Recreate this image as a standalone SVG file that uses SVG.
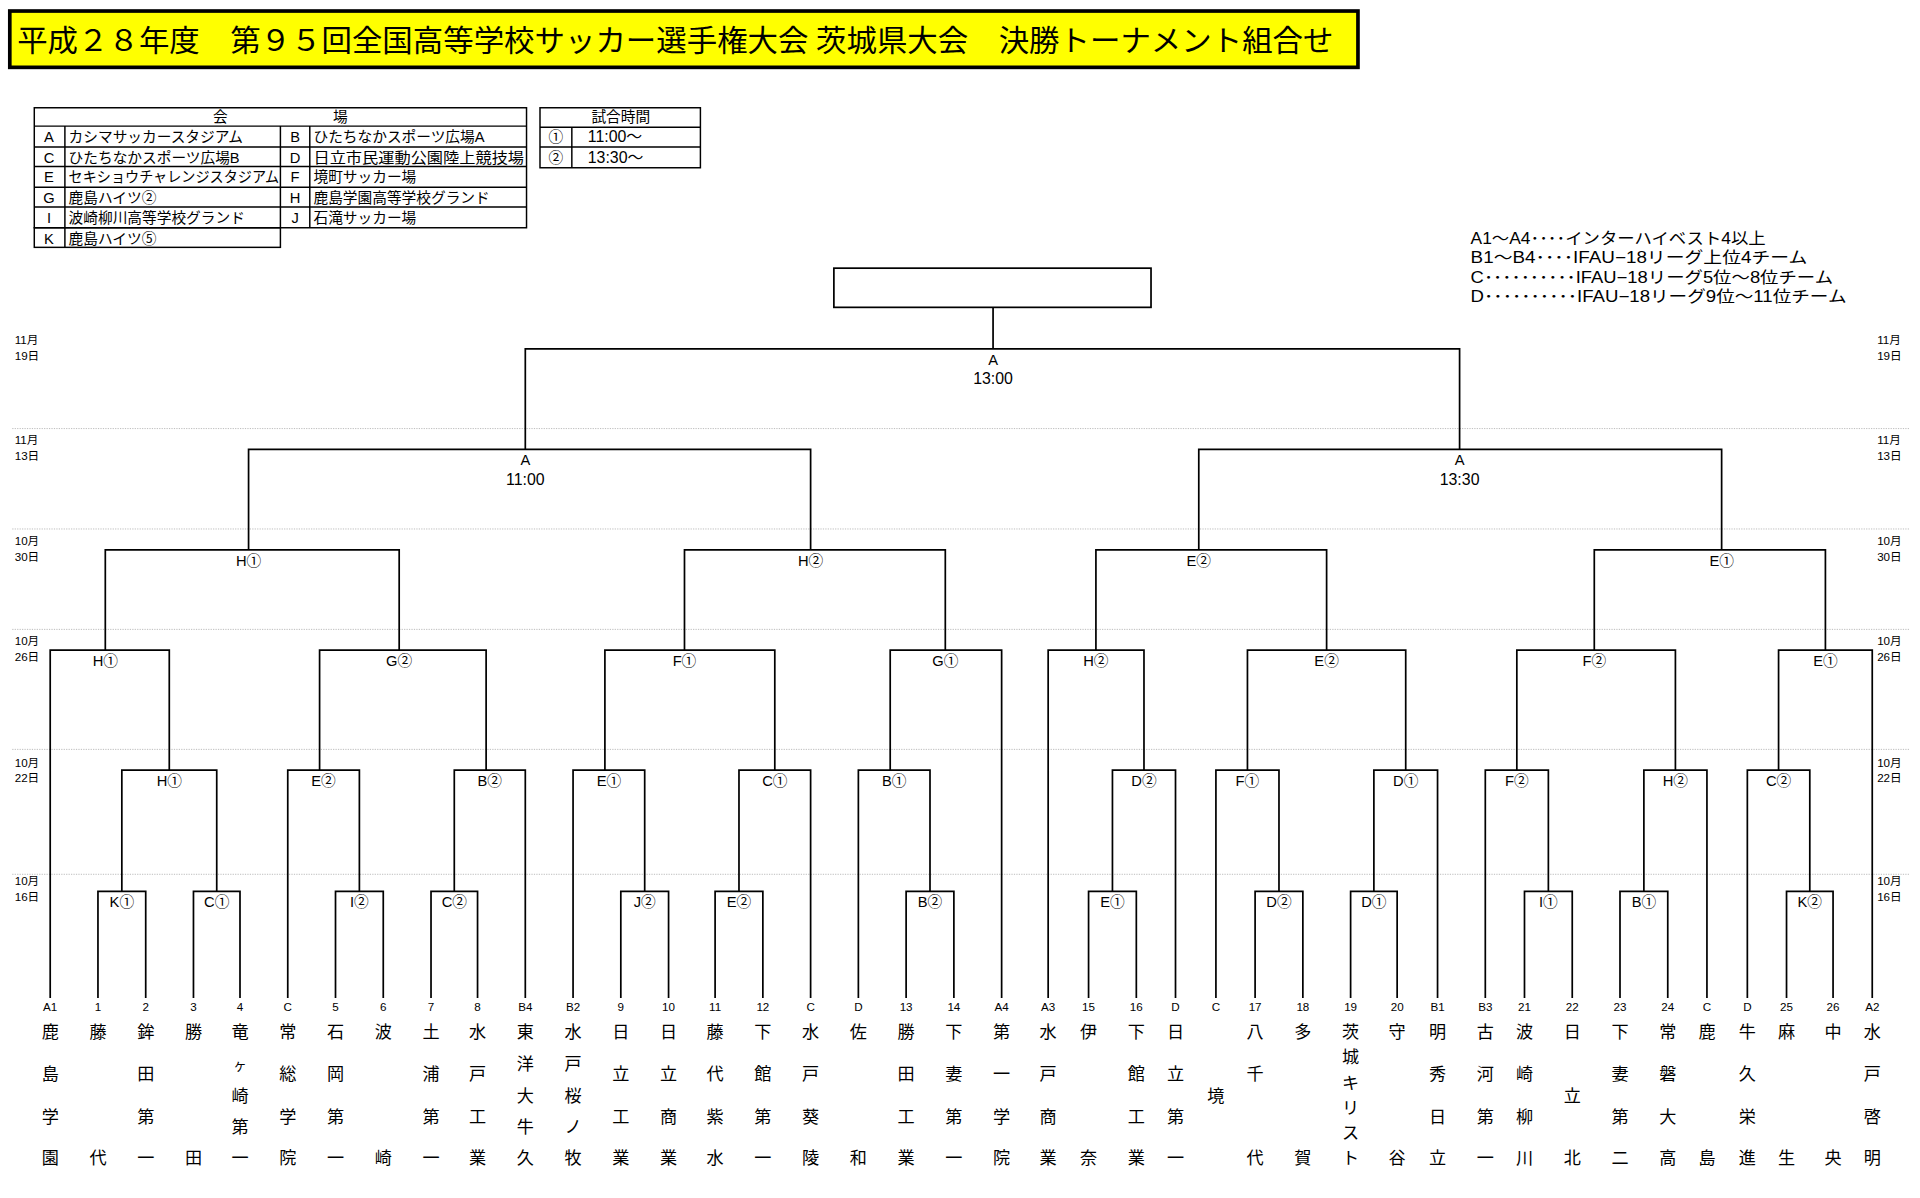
<svg xmlns="http://www.w3.org/2000/svg" width="1920" height="1198" viewBox="0 0 1920 1198">
<style>
.ln{fill:none;stroke:#000;stroke-width:1.4}
.dot{stroke:#bbb;stroke-width:0.8;stroke-dasharray:1 1}
.s{font-family:"Liberation Sans","Noto Sans CJK JP",sans-serif;fill:#000}
.lb{font-size:12px;text-anchor:middle}
.dt{font-size:9.5px}
.cd{font-size:9.5px;text-anchor:middle}
.tm{font-family:"Noto Sans CJK JP",sans-serif;font-size:14px;text-anchor:middle;fill:#000}
.tb{font-size:12px}
.cell{fill:none;stroke:#000;stroke-width:1.2}
</style>
<rect width="1920" height="1198" fill="#fff"/>
<g transform="scale(1.22449)">
<g id="title">
<rect x="8" y="9" width="1101" height="46" fill="#ffff00" stroke="#000" stroke-width="3"/>
<text x="14" y="42" font-family="'Liberation Serif','Noto Sans CJK JP',serif" font-size="24" textLength="1075" lengthAdjust="spacingAndGlyphs">平成２８年度　第９５回全国高等学校サッカー選手権大会 茨城県大会　決勝トーナメント組合せ</text>
</g>
<g id="venues" class="s tb">
<rect class="cell" x="28" y="88" width="402" height="98"/>
<rect class="cell" x="28" y="186" width="201" height="16"/>
<path class="cell" d="M28 103H430M28 120H430M28 136H430M28 153H430M28 169H430M53 103V202M229 103V186M253 103V186"/>
<text x="180" y="100" text-anchor="middle">会</text><text x="278" y="100" text-anchor="middle">場</text>
<g text-anchor="middle"><text x="40" y="116">A</text><text x="40" y="133">C</text><text x="40" y="149">E</text><text x="40" y="166">G</text><text x="40" y="182">I</text><text x="40" y="199">K</text>
<text x="241" y="116">B</text><text x="241" y="133">D</text><text x="241" y="149">F</text><text x="241" y="166">H</text><text x="241" y="182">J</text></g>
<text x="56" y="116">カシマサッカースタジアム</text><text x="56" y="133">ひたちなかスポーツ広場B</text><text x="56" y="149" textLength="172" lengthAdjust="spacingAndGlyphs">セキショウチャレンジスタジアム</text><text x="56" y="166">鹿島ハイツ②</text><text x="56" y="182">波崎柳川高等学校グランド</text><text x="56" y="199">鹿島ハイツ⑤</text>
<text x="256" y="116">ひたちなかスポーツ広場A</text><text x="256" y="133" textLength="172" lengthAdjust="spacingAndGlyphs">日立市民運動公園陸上競技場</text><text x="256" y="149">境町サッカー場</text><text x="256" y="166">鹿島学園高等学校グランド</text><text x="256" y="182">石滝サッカー場</text>
</g>
<g id="times" class="s tb">
<rect class="cell" x="441" y="88" width="131" height="49"/>
<path class="cell" d="M441 104H572M441 120H572M467 104V137"/>
<text x="507" y="100" text-anchor="middle">試合時間</text>
<text x="454" y="116" text-anchor="middle">①</text><text x="454" y="133" text-anchor="middle">②</text>
<text x="480" y="116" font-size="13">11:00～</text><text x="480" y="133" font-size="13">13:30～</text>
</g>
<g id="legend" class="s" font-size="13">
<text x="1201" y="199" textLength="241" lengthAdjust="spacingAndGlyphs">A1～A4････インターハイベスト4以上</text>
<text x="1201" y="215" textLength="275" lengthAdjust="spacingAndGlyphs">B1～B4････IFAU−18リーグ上位4チーム</text>
<text x="1201" y="231" textLength="296" lengthAdjust="spacingAndGlyphs">C･･････････IFAU−18リーグ5位～8位チーム</text>
<text x="1201" y="247" textLength="307" lengthAdjust="spacingAndGlyphs">D･･････････IFAU−18リーグ9位～11位チーム</text>
</g>
<g id="grid">
<path class="dot" d="M10 350H1560M10 432H1560M10 514H1560M10 612H1560M10 714H1560"/>
</g>
<g id="dates" class="s dt">
<text x="12" y="281">11月</text><text x="12" y="294">19日</text><text x="1533" y="281">11月</text><text x="1533" y="294">19日</text>
<text x="12" y="363">11月</text><text x="12" y="376">13日</text><text x="1533" y="363">11月</text><text x="1533" y="376">13日</text>
<text x="12" y="445">10月</text><text x="12" y="458">30日</text><text x="1533" y="445">10月</text><text x="1533" y="458">30日</text>
<text x="12" y="527">10月</text><text x="12" y="540">26日</text><text x="1533" y="527">10月</text><text x="1533" y="540">26日</text>
<text x="12" y="626">10月</text><text x="12" y="639">22日</text><text x="1533" y="626">10月</text><text x="1533" y="639">22日</text>
<text x="12" y="723">10月</text><text x="12" y="736">16日</text><text x="1533" y="723">10月</text><text x="1533" y="736">16日</text>
</g>
<g id="champion"><rect x="681" y="219" width="259" height="32" fill="#fff" stroke="#000" stroke-width="1.4"/></g>
<g id="connectors" class="ln">
<path d="M80 815V728H119V815M158 815V728H196V815M274 815V728H313V815M352 815V728H390V815M507 815V728H546V815M584 815V728H623V815M740 815V728H779V815M889 815V728H928V815M1025 815V728H1064V815M1103 815V728H1141V815M1245 815V728H1284V815M1323 815V728H1362V815M1459 815V728H1497V815"/>
<path d="M99.5 728V629H177V728M235 815V629H293.5V728M371 728V629H429V815M468 815V629H526.5V728M603.5 728V629H662V815M701 815V629H759.5V728M908.5 728V629H960V815M993 815V629H1044.5V728M1122 728V629H1174V815M1213 815V629H1264.5V728M1342.5 728V629H1394V815M1427 815V629H1478V728"/>
<path d="M41 815V531H138.25V629M261 629V531H397V629M494 629V531H632.75V629M727 629V531H818V815M856 815V531H934.25V629M1018.75 629V531H1148V629M1238.75 629V531H1368.25V629M1452.5 629V531H1529V815"/>
<path d="M86 531V449H326V531M559 531V449H772V531M895 531V449H1083.4V531M1302 531V449H1490.75V531"/>
<path d="M203 449V367H662V449M979 449V367H1406V449"/>
<path d="M429 367V285H1192V367M811 285V251"/>
</g>
<g id="match-labels" class="s lb">
<text x="99.5" y="741">K①</text><text x="177" y="741">C①</text><text x="293.5" y="741">I②</text><text x="371" y="741">C②</text><text x="526.5" y="741">J②</text><text x="603.5" y="741">E②</text><text x="759.5" y="741">B②</text><text x="908.5" y="741">E①</text><text x="1044.5" y="741">D②</text><text x="1122" y="741">D①</text><text x="1264.5" y="741">I①</text><text x="1342.5" y="741">B①</text><text x="1478" y="741">K②</text>
<text x="138.25" y="642">H①</text><text x="264.25" y="642">E②</text><text x="400" y="642">B②</text><text x="497.25" y="642">E①</text><text x="632.75" y="642">C①</text><text x="730.25" y="642">B①</text><text x="934.25" y="642">D②</text><text x="1018.75" y="642">F①</text><text x="1148" y="642">D①</text><text x="1238.75" y="642">F②</text><text x="1368.25" y="642">H②</text><text x="1452.5" y="642">C②</text>
<text x="86" y="544">H①</text><text x="326" y="544">G②</text><text x="559" y="544">F①</text><text x="772" y="544">G①</text><text x="895" y="544">H②</text><text x="1083.4" y="544">E②</text><text x="1302" y="544">F②</text><text x="1490.75" y="544">E①</text>
<text x="203" y="462">H①</text><text x="662" y="462">H②</text><text x="979" y="462">E②</text><text x="1406" y="462">E①</text>
<text x="429" y="380">A</text><text x="429" y="396" font-size="13">11:00</text><text x="1192" y="380">A</text><text x="1192" y="396" font-size="13">13:30</text>
<text x="811" y="298">A</text><text x="811" y="314" font-size="13">13:00</text>
</g>
<g id="codes" class="s cd">
<text x="41" y="826">A1</text><text x="80" y="826">1</text><text x="119" y="826">2</text><text x="158" y="826">3</text><text x="196" y="826">4</text><text x="235" y="826">C</text><text x="274" y="826">5</text><text x="313" y="826">6</text><text x="352" y="826">7</text><text x="390" y="826">8</text><text x="429" y="826">B4</text><text x="468" y="826">B2</text><text x="507" y="826">9</text><text x="546" y="826">10</text><text x="584" y="826">11</text><text x="623" y="826">12</text><text x="662" y="826">C</text><text x="701" y="826">D</text><text x="740" y="826">13</text><text x="779" y="826">14</text><text x="818" y="826">A4</text>
<text x="856" y="826">A3</text><text x="889" y="826">15</text><text x="928" y="826">16</text><text x="960" y="826">D</text><text x="993" y="826">C</text><text x="1025" y="826">17</text><text x="1064" y="826">18</text><text x="1103" y="826">19</text><text x="1141" y="826">20</text><text x="1174" y="826">B1</text><text x="1213" y="826">B3</text><text x="1245" y="826">21</text><text x="1284" y="826">22</text><text x="1323" y="826">23</text><text x="1362" y="826">24</text><text x="1394" y="826">C</text><text x="1427" y="826">D</text><text x="1459" y="826">25</text><text x="1497" y="826">26</text><text x="1529" y="826">A2</text>
</g>
<g id="teams" class="tm">
<text x="41"><tspan x="41" y="848">鹿</tspan><tspan x="41" y="882">島</tspan><tspan x="41" y="917">学</tspan><tspan x="41" y="951">園</tspan></text>
<text x="80"><tspan x="80" y="848">藤</tspan><tspan x="80" y="951">代</tspan></text>
<text x="119"><tspan x="119" y="848">鉾</tspan><tspan x="119" y="882">田</tspan><tspan x="119" y="917">第</tspan><tspan x="119" y="951">一</tspan></text>
<text x="158"><tspan x="158" y="848">勝</tspan><tspan x="158" y="951">田</tspan></text>
<text x="196"><tspan x="196" y="848">竜</tspan><tspan x="196" y="874" font-size="11">ヶ</tspan><tspan x="196" y="900">崎</tspan><tspan x="196" y="925">第</tspan><tspan x="196" y="951">一</tspan></text>
<text x="235"><tspan x="235" y="848">常</tspan><tspan x="235" y="882">総</tspan><tspan x="235" y="917">学</tspan><tspan x="235" y="951">院</tspan></text>
<text x="274"><tspan x="274" y="848">石</tspan><tspan x="274" y="882">岡</tspan><tspan x="274" y="917">第</tspan><tspan x="274" y="951">一</tspan></text>
<text x="313"><tspan x="313" y="848">波</tspan><tspan x="313" y="951">崎</tspan></text>
<text x="352"><tspan x="352" y="848">土</tspan><tspan x="352" y="882">浦</tspan><tspan x="352" y="917">第</tspan><tspan x="352" y="951">一</tspan></text>
<text x="390"><tspan x="390" y="848">水</tspan><tspan x="390" y="882">戸</tspan><tspan x="390" y="917">工</tspan><tspan x="390" y="951">業</tspan></text>
<text x="429"><tspan x="429" y="848">東</tspan><tspan x="429" y="874">洋</tspan><tspan x="429" y="900">大</tspan><tspan x="429" y="925">牛</tspan><tspan x="429" y="951">久</tspan></text>
<text x="468"><tspan x="468" y="848">水</tspan><tspan x="468" y="874">戸</tspan><tspan x="468" y="900">桜</tspan><tspan x="468" y="925">ノ</tspan><tspan x="468" y="951">牧</tspan></text>
<text x="507"><tspan x="507" y="848">日</tspan><tspan x="507" y="882">立</tspan><tspan x="507" y="917">工</tspan><tspan x="507" y="951">業</tspan></text>
<text x="546"><tspan x="546" y="848">日</tspan><tspan x="546" y="882">立</tspan><tspan x="546" y="917">商</tspan><tspan x="546" y="951">業</tspan></text>
<text x="584"><tspan x="584" y="848">藤</tspan><tspan x="584" y="882">代</tspan><tspan x="584" y="917">紫</tspan><tspan x="584" y="951">水</tspan></text>
<text x="623"><tspan x="623" y="848">下</tspan><tspan x="623" y="882">館</tspan><tspan x="623" y="917">第</tspan><tspan x="623" y="951">一</tspan></text>
<text x="662"><tspan x="662" y="848">水</tspan><tspan x="662" y="882">戸</tspan><tspan x="662" y="917">葵</tspan><tspan x="662" y="951">陵</tspan></text>
<text x="701"><tspan x="701" y="848">佐</tspan><tspan x="701" y="951">和</tspan></text>
<text x="740"><tspan x="740" y="848">勝</tspan><tspan x="740" y="882">田</tspan><tspan x="740" y="917">工</tspan><tspan x="740" y="951">業</tspan></text>
<text x="779"><tspan x="779" y="848">下</tspan><tspan x="779" y="882">妻</tspan><tspan x="779" y="917">第</tspan><tspan x="779" y="951">一</tspan></text>
<text x="818"><tspan x="818" y="848">第</tspan><tspan x="818" y="882">一</tspan><tspan x="818" y="917">学</tspan><tspan x="818" y="951">院</tspan></text>
<text x="856"><tspan x="856" y="848">水</tspan><tspan x="856" y="882">戸</tspan><tspan x="856" y="917">商</tspan><tspan x="856" y="951">業</tspan></text>
<text x="889"><tspan x="889" y="848">伊</tspan><tspan x="889" y="951">奈</tspan></text>
<text x="928"><tspan x="928" y="848">下</tspan><tspan x="928" y="882">館</tspan><tspan x="928" y="917">工</tspan><tspan x="928" y="951">業</tspan></text>
<text x="960"><tspan x="960" y="848">日</tspan><tspan x="960" y="882">立</tspan><tspan x="960" y="917">第</tspan><tspan x="960" y="951">一</tspan></text>
<text x="993" y="900">境</text>
<text x="1025"><tspan x="1025" y="848">八</tspan><tspan x="1025" y="882">千</tspan><tspan x="1025" y="951">代</tspan></text>
<text x="1064"><tspan x="1064" y="848">多</tspan><tspan x="1064" y="951">賀</tspan></text>
<text x="1103"><tspan x="1103" y="848">茨</tspan><tspan x="1103" y="868">城</tspan><tspan x="1103" y="889">キ</tspan><tspan x="1103" y="910">リ</tspan><tspan x="1103" y="930">ス</tspan><tspan x="1103" y="951">ト</tspan></text>
<text x="1141"><tspan x="1141" y="848">守</tspan><tspan x="1141" y="951">谷</tspan></text>
<text x="1174"><tspan x="1174" y="848">明</tspan><tspan x="1174" y="882">秀</tspan><tspan x="1174" y="917">日</tspan><tspan x="1174" y="951">立</tspan></text>
<text x="1213"><tspan x="1213" y="848">古</tspan><tspan x="1213" y="882">河</tspan><tspan x="1213" y="917">第</tspan><tspan x="1213" y="951">一</tspan></text>
<text x="1245"><tspan x="1245" y="848">波</tspan><tspan x="1245" y="882">崎</tspan><tspan x="1245" y="917">柳</tspan><tspan x="1245" y="951">川</tspan></text>
<text x="1284"><tspan x="1284" y="848">日</tspan><tspan x="1284" y="900">立</tspan><tspan x="1284" y="951">北</tspan></text>
<text x="1323"><tspan x="1323" y="848">下</tspan><tspan x="1323" y="882">妻</tspan><tspan x="1323" y="917">第</tspan><tspan x="1323" y="951">二</tspan></text>
<text x="1362"><tspan x="1362" y="848">常</tspan><tspan x="1362" y="882">磐</tspan><tspan x="1362" y="917">大</tspan><tspan x="1362" y="951">高</tspan></text>
<text x="1394"><tspan x="1394" y="848">鹿</tspan><tspan x="1394" y="951">島</tspan></text>
<text x="1427"><tspan x="1427" y="848">牛</tspan><tspan x="1427" y="882">久</tspan><tspan x="1427" y="917">栄</tspan><tspan x="1427" y="951">進</tspan></text>
<text x="1459"><tspan x="1459" y="848">麻</tspan><tspan x="1459" y="951">生</tspan></text>
<text x="1497"><tspan x="1497" y="848">中</tspan><tspan x="1497" y="951">央</tspan></text>
<text x="1529"><tspan x="1529" y="848">水</tspan><tspan x="1529" y="882">戸</tspan><tspan x="1529" y="917">啓</tspan><tspan x="1529" y="951">明</tspan></text>
</g>
</g>
</svg>
